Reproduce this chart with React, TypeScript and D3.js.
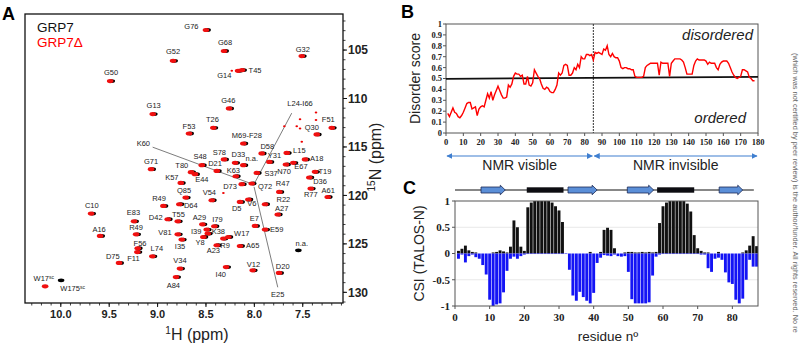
import * as d3 from 'd3';

type Kind = 'both' | 'red' | 'black';

// ---- Panel A: 1H-15N HSQC, GRP7 (black) vs GRP7Δ (red) ----
// label, 1H ppm, 15N ppm, label 1H, label 15N, spectrum
const hsqcPeaks: [string, number, number, number, number, Kind][] = [
  ['G76', 8.5, 102.93, 8.65, 102.59, 'both'],
  ['G52', 8.84, 106.11, 8.84, 105.1, 'both'],
  ['G50', 9.49, 108.2, 9.48, 107.27, 'both'],
  ['G13', 9.05, 111.61, 9.04, 110.75, 'both'],
  ['F53', 8.675, 113.61, 8.675, 112.92, 'both'],
  ['G71', 9.067, 117.29, 9.067, 116.44, 'both'],
  ['T80', 8.654, 117.6, 8.75, 116.88, 'both'],
  ['E44', 8.613, 117.81, 8.543, 118.36, 'both'],
  ['K57', 8.76, 118.71, 8.853, 118.09, 'both'],
  ['S48', 8.543, 116.88, 8.561, 116.02, 'both'],
  ['Q85', 8.709, 120.22, 8.726, 119.46, 'both'],
  ['R49', 8.94, 121.08, 8.985, 120.32, 'both'],
  ['D64', 8.775, 120.91, 8.657, 121.01, 'both'],
  ['C10', 9.687, 121.87, 9.68, 121.01, 'both'],
  ['E83', 9.243, 122.67, 9.25, 121.77, 'both'],
  ['D42', 8.895, 122.46, 9.019, 122.28, 'both'],
  ['T55', 8.791, 122.67, 8.785, 121.94, 'both'],
  ['A16', 9.594, 124.18, 9.604, 123.49, 'both'],
  ['R49', 9.222, 124.01, 9.222, 123.32, 'both'],
  ['V81', 8.791, 124.01, 8.923, 123.83, 'both'],
  ['I35', 8.75, 124.56, 8.768, 125.25, 'both'],
  ['F56', 9.205, 125.45, 9.181, 124.91, 'both'],
  ['F11', 9.209, 125.85, 9.25, 126.52, 'both'],
  ['L74', 9.054, 126.28, 9.008, 125.49, 'both'],
  ['D75', 9.398, 126.97, 9.463, 126.28, 'both'],
  ['V34', 8.768, 127.55, 8.768, 126.69, 'both'],
  ['A84', 8.809, 128.42, 8.837, 129.28, 'both'],
  ['W17^sc', 10.162, 129.38, 10.176, 128.58, 'red'],
  ['W175^sc', 9.997, 128.76, 9.878, 129.62, 'black'],
  ['A29', 8.537, 122.98, 8.568, 122.22, 'both'],
  ['I79', 8.413, 123.18, 8.382, 122.49, 'both'],
  ['I39', 8.492, 123.52, 8.602, 123.67, 'both'],
  ['K38', 8.481, 123.94, 8.372, 123.67, 'both'],
  ['Y8', 8.527, 124.29, 8.561, 124.8, 'both'],
  ['A23', 8.388, 125.14, 8.424, 125.66, 'both'],
  ['R9', 8.32, 124.45, 8.303, 125.14, 'both'],
  ['W17', 8.269, 124.29, 8.13, 123.87, 'both'],
  ['A65', 8.148, 125.22, 8.017, 125.14, 'both'],
  ['E7', 7.993, 123.15, 8.0, 122.39, 'both'],
  ['E59', 7.889, 123.52, 7.769, 123.52, 'both'],
  ['n.a.', 7.545, 125.66, 7.51, 124.91, 'black'],
  ['I40', 8.292, 127.39, 8.347, 128.14, 'both'],
  ['V12', 8.017, 127.73, 8.01, 127.11, 'both'],
  ['D20', 7.745, 128.0, 7.707, 127.28, 'both'],
  ['D36', 7.432, 118.15, 7.321, 118.5, 'both'],
  ['R77', 7.417, 119.29, 7.417, 119.88, 'both'],
  ['A61', 7.242, 120.16, 7.236, 119.46, 'both'],
  ['R47', 7.742, 119.64, 7.707, 118.71, 'both'],
  ['R22', 7.889, 120.91, 7.7, 120.42, 'both'],
  ['A27', 7.758, 121.97, 7.717, 121.3, 'both'],
  ['V6', 8.062, 120.42, 8.027, 120.84, 'both'],
  ['D5', 8.148, 120.67, 8.182, 121.29, 'both'],
  ['Q72', 8.027, 118.77, 7.889, 119.05, 'both'],
  ['D73', 8.13, 118.84, 8.251, 119.05, 'both'],
  ['V54', 8.44, 120.5, 8.465, 119.64, 'both'],
  ['S37', 7.975, 117.68, 7.827, 117.76, 'both'],
  ['K63', 8.192, 118.02, 8.217, 117.4, 'both'],
  ['D21', 8.388, 117.47, 8.406, 116.7, 'both'],
  ['D33', 8.199, 116.64, 8.165, 115.77, 'both'],
  ['S78', 8.313, 116.29, 8.362, 115.51, 'both'],
  ['n.a.', 8.114, 116.88, 8.027, 116.19, 'both'],
  ['M69-F28', 8.114, 114.64, 8.078, 113.78, 'both'],
  ['D58', 7.924, 115.67, 7.866, 114.99, 'both'],
  ['Y31', 7.845, 116.54, 7.793, 115.85, 'both'],
  ['L15', 7.665, 115.61, 7.535, 115.33, 'both'],
  ['N70', 7.673, 116.81, 7.693, 117.57, 'both'],
  ['E67', 7.597, 116.64, 7.518, 116.98, 'both'],
  ['A18', 7.476, 116.29, 7.355, 116.19, 'both'],
  ['T19', 7.373, 117.57, 7.27, 117.57, 'both'],
  ['Q30', 7.355, 113.71, 7.407, 112.99, 'both'],
  ['F51', 7.2, 113.03, 7.236, 112.16, 'both'],
  ['G46', 8.261, 111.02, 8.269, 110.17, 'both'],
  ['T26', 8.424, 113.03, 8.434, 112.13, 'both'],
  ['G14', 8.168, 107.14, 8.31, 107.58, 'both'],
  ['T45', 8.127, 107.07, 7.993, 107.14, 'both'],
  ['G68', 8.313, 105.1, 8.303, 104.25, 'both'],
  ['G32', 7.51, 105.62, 7.5, 104.93, 'both'],
];

// small unassigned peaks (1H, 15N)
const minorPeaks: [number, number][] = [
  [7.69, 112.85], [7.562, 112.85], [7.528, 113.09], [7.363, 111.44],
  [7.363, 112.23], [7.528, 112.13], [7.51, 114.47], [8.233, 107.14], [8.32, 119.74],
];

// labels that point into the crowded centre via a line
const leaderLabels: [string, number, number][] = [
  ['K60', 9.147, 114.64],
  ['L24-I66', 7.528, 110.52],
  ['E25', 7.758, 130.21],
];
const leaderLines: [number, number, number, number][] = [
  [9.051, 115.02, 8.044, 118.74],
  [7.614, 111.51, 7.993, 118.64],
  [8.003, 119.12, 7.758, 129.48],
];

const hTicks = [10, 9.5, 9, 8.5, 8, 7.5];
const nTicks = [105, 110, 115, 120, 125, 130];

// ---- Panel B: disorder prediction, residues 1..178 ----
const disorderScore = [
  0.18, 0.15, 0.19, 0.23, 0.19, 0.18, 0.15, 0.14, 0.16, 0.19,
  0.23, 0.27, 0.28, 0.28, 0.22, 0.23, 0.24, 0.16, 0.22, 0.24,
  0.25, 0.24, 0.3, 0.36, 0.32, 0.38, 0.3, 0.35, 0.39, 0.43,
  0.39, 0.35, 0.32, 0.32, 0.33, 0.44, 0.42, 0.45, 0.52, 0.55,
  0.54, 0.54, 0.52, 0.53, 0.45, 0.45, 0.52, 0.44, 0.43, 0.46,
  0.58, 0.55, 0.52, 0.5, 0.45, 0.41, 0.4, 0.42, 0.41, 0.38,
  0.37, 0.37, 0.4, 0.44, 0.55, 0.53, 0.55, 0.62, 0.63, 0.62,
  0.53, 0.53, 0.55, 0.6, 0.58, 0.63, 0.6, 0.7, 0.68, 0.68,
  0.72, 0.72, 0.71, 0.72, 0.67, 0.74, 0.73, 0.74, 0.73, 0.72,
  0.77, 0.76, 0.8, 0.72, 0.7, 0.73, 0.7, 0.69, 0.69, 0.66,
  0.6, 0.59, 0.6, 0.6, 0.59, 0.59, 0.58, 0.58, 0.52, 0.51,
  0.51, 0.51, 0.51, 0.52, 0.6, 0.62, 0.63, 0.64, 0.64, 0.64,
  0.64, 0.64, 0.53, 0.65, 0.64, 0.64, 0.64, 0.64, 0.52, 0.64,
  0.66, 0.68, 0.68, 0.68, 0.68, 0.67, 0.65, 0.6, 0.54, 0.54,
  0.54, 0.54, 0.62, 0.66, 0.68, 0.67, 0.67, 0.67, 0.67, 0.66,
  0.63, 0.65, 0.64, 0.64, 0.64, 0.6, 0.58, 0.63, 0.65, 0.66,
  0.66, 0.66, 0.64, 0.6, 0.56, 0.53, 0.51, 0.5, 0.51, 0.52,
  0.58, 0.58, 0.57, 0.56, 0.51, 0.5, 0.48, 0.48,
];
const thresholdLine = [0.497, 0.515];
const nmrBoundary = 85;

// ---- Panel C: TALOS-N CSI, residues 1..87 ----
const csiHelix = [
  0.05, 0.09, 0.15, 0.06, 0.03, 0.02, 0, 0, 0, 0,
  0.02, 0.03, 0.06, 0.04, 0.02, 0.13, 0.63, 0.5, 0.13, 0.05,
  0.88, 0.97, 1, 1, 1, 1, 1, 0.97, 0.9, 0.82,
  0.6, 0, 0, 0, 0, 0, 0, 0, 0.03, 0,
  0, 0.03, 0.45, 0.49, 0.45, 0.1, 0, 0, 0.02, 0.03,
  0.03, 0.02, 0.02, 0.03, 0.02, 0.03, 0.02, 0.03, 0.58, 0.9,
  0.97, 1, 1, 1, 1, 1, 0.95, 0.8, 0.35, 0.1,
  0.05, 0.02, 0.02, 0, 0, 0.03, 0, 0, 0, 0,
  0, 0, 0.02, 0.06, 0.15, 0.33, 0.14,
];
const csiStrand = [
  -0.1, -0.02, -0.17, -0.05, -0.02, -0.07, -0.1, -0.22, -0.4, -0.88,
  -1.0, -0.97, -0.95, -0.74, -0.33, -0.1, -0.06, -0.1, -0.05, -0.02,
  -0.01, -0.01, -0.01, -0.01, -0.01, -0.01, -0.01, -0.01, -0.01, -0.01,
  -0.01, -0.01, -0.31, -0.8, -0.9, -0.73, -0.83, -0.9, -0.95, -0.75,
  -0.18, -0.08, -0.03, -0.04, -0.05, -0.02, -0.05, -0.06, -0.05, -0.35,
  -0.87, -0.95, -0.95, -0.95, -0.95, -0.93, -0.42, -0.06, -0.02, -0.01,
  -0.01, -0.01, -0.01, -0.01, -0.01, -0.01, -0.01, -0.01, -0.01, -0.01,
  -0.02, -0.02, -0.28, -0.35, -0.1, -0.08, -0.12, -0.36, -0.55, -0.58,
  -0.88, -0.95, -0.86, -0.5, -0.12, -0.25, -0.25,
];
const strands: [number, number][] = [[7.5, 14.5], [32.6, 41], [49.7, 57.3], [76.2, 83]];
const helices: [number, number][] = [[20.7, 31.3], [58.3, 69]];

const SANS = 'Liberation Sans, Arial, sans-serif';
const SERIF = 'Liberation Serif, Times New Roman, serif';

function PeakLabel({ txt, x, y }: { txt: string; x: number; y: number }) {
  const [main, sup] = txt.split('^');
  return (
    <text x={x} y={y} dy="0.35em" textAnchor="middle" fontSize={7.5} fontFamily={SANS} fill="#222">
      {main}
      {sup && <tspan fontSize={5} dy={-2.5}>{sup}</tspan>}
    </text>
  );
}

export default function App() {
  // panel A
  const xA = d3.scaleLinear().domain([10.37, 7.084]).range([25, 343]);
  const yA = d3.scaleLinear().domain([101.28, 131.1]).range([14, 303]);
  // panel B
  const xB = d3.scaleLinear().domain([0, 180]).range([446, 758]);
  const yB = d3.scaleLinear().domain([0, 1]).range([133, 24]);
  // panel C
  const xC = d3.scaleLinear().domain([0, 87.4]).range([455, 758]);
  const yC = d3.scaleLinear().domain([-1, 1]).range([306, 201]);

  const hMinor = d3.range(71, 104).map(v => v / 10);
  const nMinor = d3.range(102, 132);

  const disorderLine = d3.line<number>()
    .x((_, i) => xB(i + 1))
    .y(d => yB(d))(disorderScore);

  const ssY = 190;

  return (
    <svg width={800} height={361} style={{ position: 'absolute', left: 0, top: 0, background: '#fff' }}>
      <defs>
        <marker id="arrB" viewBox="0 0 10 10" refX="9" refY="5" markerWidth="5" markerHeight="5" orient="auto-start-reverse">
          <path d="M0,0 L10,5 L0,10 Z" fill="#3f7fd0" />
        </marker>
        <clipPath id="clipC">
          <rect x={xC(0)} y={yC(1)} width={xC(87.4) - xC(0)} height={yC(-1) - yC(1)} />
        </clipPath>
      </defs>

      {/* ---------- Panel A ---------- */}
      <text x={2} y={20} fontSize={18} fontWeight="bold" fontFamily={SANS}>A</text>
      <rect x={25} y={14} width={318} height={289} fill="none" stroke="#111" strokeWidth={1.3} />
      <text x={37} y={32} fontSize={13.5} fontFamily={SANS} fill="#111">GRP7</text>
      <text x={37} y={47} fontSize={13.5} fontFamily={SANS} fill="#f00">GRP7Δ</text>

      {leaderLines.map((l, i) => (
        <line key={'ll' + i} x1={xA(l[0])} y1={yA(l[1])} x2={xA(l[2])} y2={yA(l[3])} stroke="#444" strokeWidth={0.7} />
      ))}

      {minorPeaks.map((p, i) => (
        <ellipse key={'mp' + i} cx={xA(p[0])} cy={yA(p[1])} rx={1.3} ry={1} fill="#e00" />
      ))}

      {hsqcPeaks.map((p, i) => (
        <g key={'pk' + i}>
          {p[5] !== 'red' && (
            <ellipse cx={xA(p[1]) + (p[5] === 'black' ? 0 : 1.6)} cy={yA(p[2])} rx={3.3} ry={1.9} fill="#000" />
          )}
          {p[5] !== 'black' && (
            <ellipse cx={xA(p[1])} cy={yA(p[2])} rx={3.3} ry={2.1} fill="#f01010" />
          )}
          <PeakLabel txt={p[0]} x={xA(p[3])} y={yA(p[4])} />
        </g>
      ))}
      {leaderLabels.map((l, i) => (
        <PeakLabel key={'lb' + i} txt={l[0]} x={xA(l[1])} y={yA(l[2])} />
      ))}

      {/* x axis (1H) */}
      {hMinor.map(v => (
        <line key={'hm' + v} x1={xA(v)} x2={xA(v)} y1={303} y2={305.5} stroke="#111" strokeWidth={0.8} />
      ))}
      {hTicks.map(v => (
        <g key={'ht' + v}>
          <line x1={xA(v)} x2={xA(v)} y1={303} y2={307} stroke="#111" strokeWidth={1} />
          <text x={xA(v)} y={318} textAnchor="middle" fontSize={11} fontWeight="bold" fontFamily={SANS} fill="#222">
            {d3.format('.1f')(v)}
          </text>
        </g>
      ))}
      <text x={197} y={340} textAnchor="middle" fontSize={16} fontFamily={SANS} fill="#222">
        <tspan fontSize={10} dy={-6}>1</tspan><tspan dy={6}>H (ppm)</tspan>
      </text>

      {/* right axis (15N) */}
      {nMinor.map(v => (
        <line key={'nm' + v} x1={343} x2={345.5} y1={yA(v)} y2={yA(v)} stroke="#111" strokeWidth={0.8} />
      ))}
      {nTicks.map(v => (
        <g key={'nt' + v}>
          <line x1={343} x2={347} y1={yA(v)} y2={yA(v)} stroke="#111" strokeWidth={1} />
          <text x={348} y={yA(v)} dy="0.36em" fontSize={12} fontWeight="bold" fontFamily={SANS} fill="#222">{v}</text>
        </g>
      ))}
      <text transform="translate(381,157) rotate(-90)" textAnchor="middle" fontSize={16} fontFamily={SANS} fill="#222">
        <tspan fontSize={10} dy={-6}>15</tspan><tspan dy={6}>N (ppm)</tspan>
      </text>

      {/* ---------- Panel B ---------- */}
      <text x={401} y={18} fontSize={18} fontWeight="bold" fontFamily={SANS}>B</text>
      <rect x={xB(0)} y={yB(1)} width={xB(180) - xB(0)} height={yB(0) - yB(1)} fill="none" stroke="#555" strokeWidth={1} />
      {d3.range(0, 11).map(i => i / 10).map(v => (
        <g key={'by' + v}>
          <line x1={xB(0) - 3} x2={xB(0)} y1={yB(v)} y2={yB(v)} stroke="#555" />
          <text x={xB(0) - 4} y={yB(v)} dy="0.35em" textAnchor="end" fontSize={8.5} fontWeight="bold" fontFamily={SERIF} fill="#222">{v}</text>
        </g>
      ))}
      {d3.range(0, 190, 10).map(v => (
        <g key={'bx' + v}>
          <line x1={xB(v)} x2={xB(v)} y1={yB(0)} y2={yB(0) + 3} stroke="#555" />
          <text x={xB(v)} y={yB(0) + 12} textAnchor="middle" fontSize={8.5} fontWeight="bold" fontFamily={SERIF} fill="#222">{v}</text>
        </g>
      ))}
      <line x1={xB(nmrBoundary)} x2={xB(nmrBoundary)} y1={yB(1)} y2={yB(0)} stroke="#333" strokeWidth={1} strokeDasharray="2,1" />
      <line x1={xB(0)} x2={xB(180)} y1={yB(thresholdLine[0])} y2={yB(thresholdLine[1])} stroke="#111" strokeWidth={1.8} />
      <path d={disorderLine ?? ''} fill="none" stroke="#f00" strokeWidth={1.4} />
      <text x={753} y={40} textAnchor="end" fontSize={15} fontStyle="italic" fontFamily={SANS} fill="#222">disordered</text>
      <text x={746} y={123} textAnchor="end" fontSize={15} fontStyle="italic" fontFamily={SANS} fill="#222">ordered</text>
      <text transform={`translate(420,${(yB(0) + yB(1)) / 2}) rotate(-90)`} textAnchor="middle" fontSize={14} fontFamily={SANS} fill="#222">Disorder score</text>

      <line x1={xB(0) + 1} x2={xB(nmrBoundary) - 1} y1={156} y2={156} stroke="#3f7fd0" strokeWidth={1.2} markerStart="url(#arrB)" markerEnd="url(#arrB)" />
      <line x1={xB(nmrBoundary) + 1} x2={xB(180) - 1} y1={156} y2={156} stroke="#3f7fd0" strokeWidth={1.2} markerStart="url(#arrB)" markerEnd="url(#arrB)" />
      <text x={xB(nmrBoundary / 2)} y={170} textAnchor="middle" fontSize={14} fontFamily={SANS} fill="#222">NMR visible</text>
      <text x={xB((nmrBoundary + 180) / 2)} y={170} textAnchor="middle" fontSize={14} fontFamily={SANS} fill="#222">NMR invisible</text>

      {/* ---------- Panel C ---------- */}
      <text x={403} y={194} fontSize={18} fontWeight="bold" fontFamily={SANS}>C</text>
      {/* secondary structure */}
      <line x1={xC(0)} x2={xC(86.2)} y1={ssY} y2={ssY} stroke="#111" strokeWidth={1} />
      {helices.map((h, i) => (
        <rect key={'hx' + i} x={xC(h[0])} y={ssY - 2.7} width={xC(h[1]) - xC(h[0])} height={5.4} fill="#0d0d12" />
      ))}
      {strands.map((s, i) => {
        const x0 = xC(s[0]), x1 = xC(s[1]), hl = 5;
        return (
          <path key={'st' + i}
            d={`M${x0},${ssY - 3} L${x1 - hl},${ssY - 3} L${x1 - hl},${ssY - 4.8} L${x1},${ssY} L${x1 - hl},${ssY + 4.8} L${x1 - hl},${ssY + 3} L${x0},${ssY + 3} Z`}
            fill="#5b8fd8" stroke="#1c2a55" strokeWidth={0.8} />
        );
      })}

      {[0.5, -0.5].map(v => (
        <line key={'cg' + v} x1={xC(0)} x2={xC(87.4)} y1={yC(v)} y2={yC(v)} stroke="#e2e2e2" strokeWidth={0.8} />
      ))}
      <g clipPath="url(#clipC)">
        {csiHelix.map((v, i) => (
          <rect key={'ch' + i} x={xC(i + 1 - 0.42)} width={xC(0.84) - xC(0)} y={yC(v)} height={yC(0) - yC(v)} fill="#111" />
        ))}
        {csiStrand.map((v, i) => (
          <rect key={'cs' + i} x={xC(i + 1 - 0.42)} width={xC(0.84) - xC(0)} y={yC(0)} height={yC(v) - yC(0)} fill="#1414f5" />
        ))}
      </g>
      <rect x={xC(0)} y={yC(1)} width={xC(87.4) - xC(0)} height={yC(-1) - yC(1)} fill="none" stroke="#555" strokeWidth={1} />
      {[1, 0.5, 0, -0.5, -1].map(v => (
        <g key={'cy' + v}>
          <line x1={xC(0) - 3} x2={xC(0)} y1={yC(v)} y2={yC(v)} stroke="#555" />
          <text x={xC(0) - 5} y={yC(v)} dy="0.35em" textAnchor="end" fontSize={11} fontWeight="bold" fontFamily={SERIF} fill="#222">{v}</text>
        </g>
      ))}
      {d3.range(0, 90, 10).map(v => (
        <g key={'cx' + v}>
          <line x1={xC(v)} x2={xC(v)} y1={yC(-1)} y2={yC(-1) + 3} stroke="#555" />
          <text x={xC(v)} y={yC(-1) + 15} textAnchor="middle" fontSize={11} fontWeight="bold" fontFamily={SERIF} fill="#222">{v}</text>
        </g>
      ))}
      <text transform={`translate(424,${(yC(1) + yC(-1)) / 2}) rotate(-90)`} textAnchor="middle" fontSize={14} fontFamily={SANS} fill="#222">CSI (TALOS-N)</text>
      <text x={608} y={341} textAnchor="middle" fontSize={13.5} fontFamily={SANS} fill="#222">residue nº</text>

      {/* preprint watermark */}
      <text transform="translate(793,53) rotate(90)" fontSize={7.4} fontFamily={SANS} fill="#666">
        (which was not certified by peer review) is the author/funder. All rights reserved. No re
      </text>
    </svg>
  );
}
